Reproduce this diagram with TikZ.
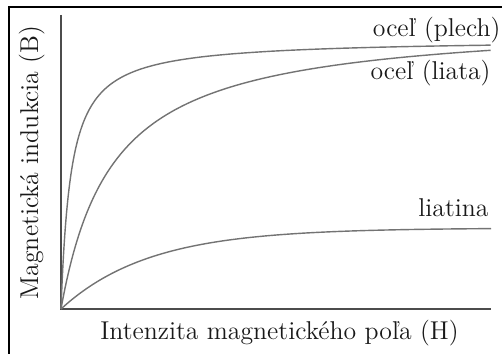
\documentclass[tikz,border=0pt]{standalone}
\usepackage{fontspec}
\begin{document}
\begin{tikzpicture}[x=0.015cm, y=-0.015cm, font=\fontsize{11}{13}\selectfont,
  axis/.style={draw=black!70, line width=0.85pt},
  curve/.style={draw=black!55, line width=0.6pt},
  lbl/.style={inner sep=0pt, text=black!90}]
\useasboundingbox (0,0) rectangle (502,354);
\draw[line width=0.9pt] (9,354) -- (9,7) -- (502,7);
\coordinate (O) at (61,309);
\coordinate (Y_top) at (61,15);
\coordinate (X_end) at (491,309);
\draw[axis] (Y_top) -- (O) -- (X_end);
\node[lbl, rotate=90, anchor=base] (Y_lab) at (38,162.5) {Magnetická indukcia (B)};
\node[lbl, anchor=base] (X_lab) at (279.5,340) {Intenzita magnetického poľa (H)};
% krivky B(H)
\draw[curve] plot[domain=0:1, samples=160] ({61+430*\x*\x},{309-270*\x*\x/(0.02326+\x*\x)});
\draw[curve] plot[domain=0:1, samples=160] ({61+430*\x*\x},{309-290*\x*\x/(0.12093+\x*\x)});
\draw[curve] plot[domain=0:430, samples=120] ({61+\x},{309-81*(1-exp(-\x/88))});
\node[lbl, anchor=base east] (L_plech) at (501,37) {oceľ (plech)};
\node[lbl, anchor=base east] (L_liata) at (491,80) {oceľ (liata)};
\node[lbl, anchor=base east] (L_liatina) at (489,217) {liatina};
\end{tikzpicture}
\end{document}
